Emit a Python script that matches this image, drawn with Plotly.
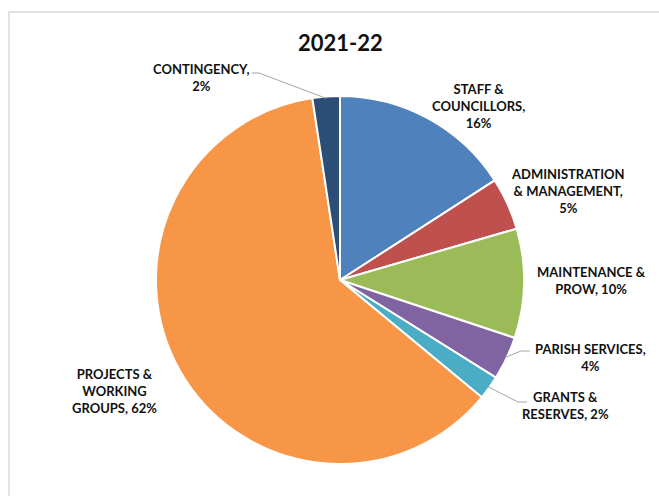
import math
import plotly.graph_objects as go

# ---- data ----
categories = ["STAFF &<br>COUNCILLORS", "ADMINISTRATION<br>& MANAGEMENT", "MAINTENANCE &<br>PROW",
              "PARISH SERVICES", "GRANTS &<br>RESERVES", "PROJECTS &<br>WORKING<br>GROUPS", "CONTINGENCY"]
values = [15.9, 4.6, 9.6, 3.8, 2.1, 61.6, 2.4]
title_text = "2021-22"

# ---- styling / layout ----
colors = ["#4F81BD", "#C0504D", "#9BBB59", "#8064A2", "#4BACC6", "#F79646", "#2C4D75"]
separators = [",<br>", ",<br>", ", ", ",<br>", ", ", ", ", ",<br>"]
label_px = [(478, 106), (568, 191), (591, 280), (590, 357), (565, 405), (114, 391), (201, 77)]
W, H = 659, 496
CX, CY, R = 340, 280, 184
FONT = "Lato, 'Open Sans', sans-serif"


def px(x, y):
    return x / W, (H - y) / H


total = sum(values)
pcts = [v / total * 100 for v in values]

fig = go.Figure(go.Pie(
    labels=categories, values=values, sort=False, direction="clockwise", rotation=0,
    marker=dict(colors=colors, line=dict(color="white", width=2)),
    textinfo="none", hoverinfo="label+percent", showlegend=False,
    domain=dict(x=[(CX - R) / W, (CX + R) / W], y=[(H - CY - R) / H, (H - CY + R) / H]),
))

annotations = []
for cat, sep, p, (lx, ly) in zip(categories, separators, pcts, label_px):
    ax, ay = px(lx, ly)
    annotations.append(dict(
        x=ax, y=ay, xref="paper", yref="paper", showarrow=False,
        text=f"<b>{cat}{sep}{round(p)}%</b>", align="center",
        font=dict(family=FONT, size=13, color="#111111"), xanchor="center", yanchor="middle",
    ))
tx, ty = px(CX, 42)
annotations.append(dict(x=tx, y=ty, xref="paper", yref="paper", showarrow=False,
                        text=f"<b>{title_text}</b>", font=dict(family=FONT, size=22, color="#111"),
                        xanchor="center", yanchor="middle"))

# leader lines: start at slice mid-angle on the rim, bend toward label
cum = 0
mids = []
for p in pcts:
    mids.append((cum + p / 2) / 100 * 2 * math.pi)
    cum += p


def rim(i, k=1.0):
    a = mids[i]
    return CX + R * k * math.sin(a), CY - R * k * math.cos(a)


shapes = []
leader = {6: [(259, 73), (252, 73)], 3: [(521, 351), (530, 351)], 4: [(518, 402), (527, 402)]}
for i, pts in leader.items():
    x0, y0 = rim(i, 0.99)
    allp = [(x0, y0)] + pts
    path = "M " + " L ".join(f"{px(x, y)[0]},{px(x, y)[1]}" for x, y in allp)
    shapes.append(dict(type="path", path=path, xref="paper", yref="paper",
                       line=dict(color="#A6A6A6", width=1)))

# chart frame
fx0, fy0 = px(9, 12)
shapes.append(dict(type="path", xref="paper", yref="paper",
                   path=f"M {fx0},-0.02 L {fx0},{fy0} L 1.02,{fy0}",
                   line=dict(color="#D9D9D9", width=1.5)))

fig.update_layout(
    width=W, height=H, margin=dict(l=0, r=0, t=0, b=0),
    paper_bgcolor="white", plot_bgcolor="white",
    annotations=annotations, shapes=shapes,
)
fig.write_html("out.html")
